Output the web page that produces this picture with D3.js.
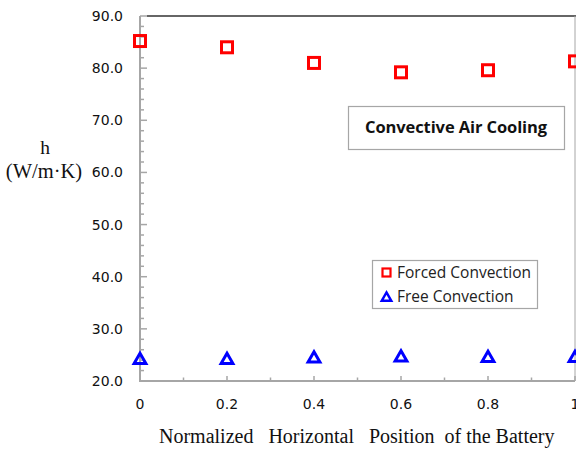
<!DOCTYPE html>
<html>
<head>
<meta charset="utf-8">
<script src="https://cdn.jsdelivr.net/npm/d3@7"></script>
<style>
  html, body { margin: 0; padding: 0; background: #fff; }
  svg { display: block; }
</style>
</head>
<body>
<svg id="chart" width="576" height="453"></svg>
<script>
// Normalized horizontal position along the battery
const positions = [0, 0.2, 0.4, 0.6, 0.8, 1.0];
// Heat transfer coefficient h (W/m·K)
const forcedConvection = [85.2, 84.0, 81.0, 79.2, 79.6, 81.3];
const freeConvection = [24.0, 24.0, 24.3, 24.5, 24.4, 24.4];

const yTicks = [20, 30, 40, 50, 60, 70, 80, 90];
const xTicks = [0, 0.2, 0.4, 0.6, 0.8, 1.0];
const xTickLabels = ["0", "0.2", "0.4", "0.6", "0.8", "1"];

const seriesNames = ["Forced Convection", "Free Convection"];
const chartTitle = "Convective Air Cooling";

const svg = d3.select("#chart");
const plot = { left: 140, right: 575, top: 16, bottom: 381 };

const x = d3.scaleLinear().domain([0, 1]).range([plot.left, plot.right]);
const y = d3.scaleLinear().domain([20, 90]).range([plot.bottom, plot.top]);

const axisGray = "#a6a6a6";

// Frame: black top edge, gray right edge
svg.append("line")
  .attr("x1", plot.left + 7).attr("x2", plot.right + 1)
  .attr("y1", plot.top).attr("y2", plot.top)
  .attr("stroke", "#333").attr("stroke-width", 1.5);
svg.append("line")
  .attr("x1", plot.right).attr("x2", plot.right)
  .attr("y1", plot.top).attr("y2", plot.bottom)
  .attr("stroke", axisGray).attr("stroke-width", 1);

// Y axis: minor ticks every 2, major every 10, drawn inward
const yMinor = d3.range(20, 90.01, 2);
const yAxisG = svg.append("g");
yAxisG.selectAll("line.minor").data(yMinor).join("line")
  .attr("x1", plot.left).attr("x2", d => plot.left + (d % 10 === 0 ? 7 : 4))
  .attr("y1", d => y(d)).attr("y2", d => y(d))
  .attr("stroke", axisGray).attr("stroke-width", 1.5);
yAxisG.append("line")
  .attr("x1", plot.left).attr("x2", plot.left)
  .attr("y1", plot.top).attr("y2", plot.bottom + 1)
  .attr("stroke", axisGray).attr("stroke-width", 2);
yAxisG.selectAll("text").data(yTicks).join("text")
  .attr("x", 123).attr("y", d => y(d)).attr("dy", "0.36em")
  .attr("text-anchor", "end")
  .attr("font-family", "DejaVu Sans, sans-serif").attr("font-size", 14)
  .attr("fill", "#111")
  .text(d => d.toFixed(1));

// X axis: ticks every 0.1, drawn inward
const xMinor = d3.range(0, 1.001, 0.1);
const xAxisG = svg.append("g");
xAxisG.selectAll("line.tick").data(xMinor).join("line")
  .attr("x1", d => x(d)).attr("x2", d => x(d))
  .attr("y1", plot.bottom).attr("y2", (d, i) => plot.bottom - (i % 2 === 0 ? 5 : 3.5))
  .attr("stroke", axisGray).attr("stroke-width", 1.5);
xAxisG.append("line")
  .attr("x1", plot.left - 1).attr("x2", plot.right)
  .attr("y1", plot.bottom).attr("y2", plot.bottom)
  .attr("stroke", axisGray).attr("stroke-width", 2);
xAxisG.selectAll("text").data(xTicks).join("text")
  .attr("x", d => x(d)).attr("y", 409)
  .attr("text-anchor", "middle")
  .attr("font-family", "DejaVu Sans, sans-serif").attr("font-size", 14)
  .attr("fill", "#111")
  .text((d, i) => xTickLabels[i]);

// Axis titles
svg.append("text")
  .attr("x", 159).attr("y", 443)
  .attr("text-anchor", "start")
  .attr("font-family", "Liberation Serif, Times New Roman, serif").attr("font-size", 20)
  .attr("fill", "#111")
  .style("white-space", "pre")
  .text("Normalized   Horizontal   Position  of the Battery");

svg.append("text")
  .attr("x", 45).attr("y", 154)
  .attr("text-anchor", "middle")
  .attr("font-family", "Liberation Serif, Times New Roman, serif").attr("font-size", 19.5)
  .attr("fill", "#111")
  .text("h");
svg.append("text")
  .attr("x", 44).attr("y", 178)
  .attr("text-anchor", "middle")
  .attr("font-family", "Liberation Serif, Times New Roman, serif").attr("font-size", 20.5)
  .attr("fill", "#111")
  .text("(W/m·K)");

// Markers
const triangle = d3.symbol().type(d3.symbolTriangle);

svg.append("g").selectAll("rect").data(positions).join("rect")
  .attr("x", d => x(d) - 5.5)
  .attr("y", (d, i) => y(forcedConvection[i]) - 5.5)
  .attr("width", 11).attr("height", 11)
  .attr("fill", "none").attr("stroke", "#ff0000").attr("stroke-width", 3);

svg.append("g").selectAll("path").data(positions).join("path")
  .attr("d", triangle.size(60))
  .attr("transform", (d, i) => `translate(${x(d)},${y(freeConvection[i])})`)
  .attr("fill", "none").attr("stroke", "#0000ff").attr("stroke-width", 3)
  .attr("stroke-linejoin", "miter");

// Title box
svg.append("rect")
  .attr("x", 348.5).attr("y", 106.5).attr("width", 216).attr("height", 43)
  .attr("fill", "#fff").attr("stroke", axisGray).attr("stroke-width", 1.2);
svg.append("text")
  .attr("x", 456).attr("y", 133)
  .attr("text-anchor", "middle")
  .attr("font-family", "Open Sans, sans-serif").attr("font-weight", "bold").attr("font-size", 16.5)
  .attr("letter-spacing", -0.1)
  .attr("fill", "#111")
  .text(chartTitle);

// Legend
const legend = svg.append("g");
legend.append("rect")
  .attr("x", 372.5).attr("y", 260.5).attr("width", 165).attr("height", 48)
  .attr("fill", "#fff").attr("stroke", axisGray).attr("stroke-width", 1.2);
legend.append("rect")
  .attr("x", 382.5).attr("y", 268.5).attr("width", 8).attr("height", 8)
  .attr("fill", "none").attr("stroke", "#ff0000").attr("stroke-width", 2.2);
legend.append("path")
  .attr("d", triangle.size(40))
  .attr("transform", "translate(386.5,298)")
  .attr("fill", "none").attr("stroke", "#0000ff").attr("stroke-width", 2.4);
legend.selectAll("text").data(seriesNames).join("text")
  .attr("x", 397).attr("y", (d, i) => 278 + i * 24)
  .attr("font-family", "Open Sans, sans-serif").attr("font-size", 15.5)
  .attr("fill", "#222")
  .text(d => d);
</script>
</body>
</html>
